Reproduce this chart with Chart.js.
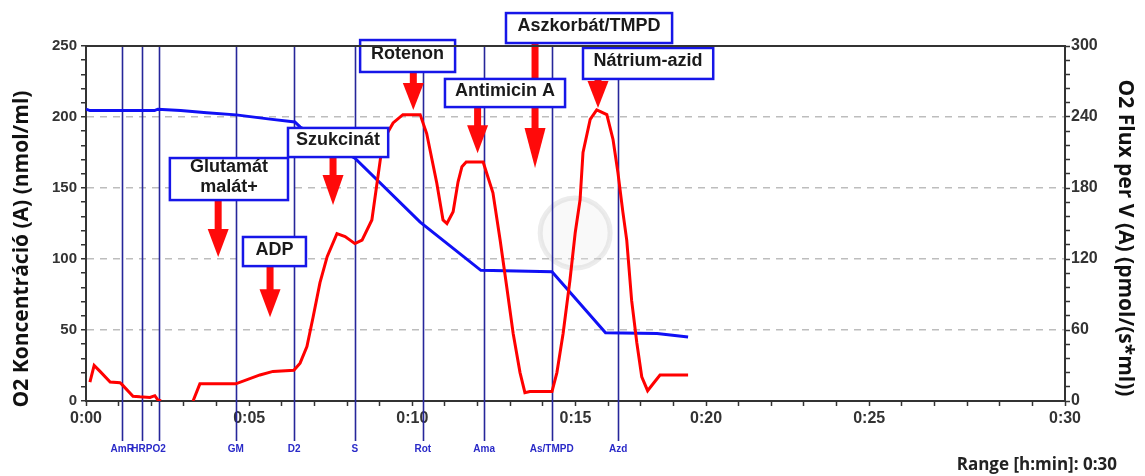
<!DOCTYPE html>
<html>
<head>
<meta charset="utf-8">
<script src="https://cdn.jsdelivr.net/npm/chart.js@4.4.0/dist/chart.umd.min.js"></script>
<style>
  html, body { margin: 0; padding: 0; background: #fff; }
  #wrap { width: 1145px; height: 476px; }
</style>
</head>
<body>
<div id="wrap"><canvas id="o2chart" width="1145" height="476"></canvas></div>
<script>
Chart.defaults.font.family = "'Liberation Sans', Arial, sans-serif";
Chart.defaults.color = '#333';

// time axis, one tick per minute, labelled ones below
const tickAt = [0, 5, 10, 15, 19, 24, 30];
const tickText = ['0:00', '0:05', '0:10', '0:15', '0:20', '0:25', '0:30'];

// O2 flux per V (pmol/(s*ml)) - right axis
const fluxTime = [0.12, 0.25, 0.43, 0.74, 1.04, 1.1, 1.44, 1.65, 1.96, 2.11, 2.2, 2.3, 2.8,
  3.28, 3.49, 4.59, 5.33, 5.73, 6.37, 6.56, 6.77, 6.96, 7.17, 7.39, 7.69, 7.94, 8.24, 8.46,
  8.76, 9.1, 9.41, 9.71, 10.24, 10.44, 10.75, 10.94, 11.06, 11.25, 11.4, 11.52, 11.65, 12.17,
  12.47, 12.69, 12.89, 13.09, 13.3, 13.45, 13.6, 14.28, 14.43, 14.62, 14.83, 14.99, 15.14,
  15.23, 15.45, 15.65, 15.96, 16.15, 16.3, 16.45, 16.57, 16.72, 16.88, 17.03, 17.21, 17.39,
  17.59, 18.45];
const fluxValue = [16, 30, 25, 16, 15.5, 14, 4, 3.5, 3, 4.5, 1, 0, null,
  0, 14.5, 14.5, 22, 25, 26, 32, 46, 71, 100, 122, 141.5, 139, 133, 136,
  153, 220, 235, 242, 242, 226, 184, 153, 150, 160, 185, 198, 202, 202,
  176, 136, 97, 57, 24, 7, 8, 8, 24, 57, 102, 142, 170,
  210, 238, 246, 242, 221, 193, 160, 136, 85, 49, 20.5, 8.7, 15,
  22, 22];

// O2 concentration (nmol/ml) - left axis
const concTime = [0, 0.12, 2.1, 2.2, 2.9, 3.7, 4.6, 5.64, 6.4, 6.56, 8.24, 10.24, 12.1, 14.28, 15.92, 17.5, 18.45];
const concValue = [205.5, 204.5, 204.5, 205.5, 204.5, 203, 201.5, 198.5, 196.5, 193, 171, 126, 92, 91, 48, 47.5, 45];

// titration events
const eventTime = [1.11, 1.71, 2.24, 4.59, 6.38, 8.24, 10.32, 12.2, 14.27, 16.31];
const eventCode = ['AmR', 'HRP', 'O2', 'GM', 'D2', 'S', 'Rot', 'Ama', 'As/TMPD', 'Azd'];

// callout boxes + arrows, placed in axis units (minutes / nmol/ml)
const callouts = [
  { text: ['Glutamát', 'malát+'], x1: 2.57, x2: 6.19, y1: 171.1, y2: 141.5, ax: 4.05, ay: 101.4, head: 28 },
  { text: ['ADP'], x1: 4.81, x2: 6.74, y1: 115.5, y2: 95, ax: 5.64, ay: 59, head: 28 },
  { text: ['Szukcinát'], x1: 6.19, x2: 9.26, y1: 192.3, y2: 171.8, ax: 7.57, ay: 138, head: 30 },
  { text: ['Rotenon'], x1: 8.4, x2: 11.31, y1: 254.2, y2: 231.7, ax: 10.03, ay: 205, head: 27 },
  { text: ['Antimicin A'], x1: 11.0, x2: 14.68, y1: 226.8, y2: 207, ax: 12.0, ay: 174.4, head: 28 },
  { text: ['Aszkorbát/TMPD'], x1: 12.87, x2: 17.96, y1: 273.2, y2: 252.1, ax: 13.76, ay: 164, head: 40 },
  { text: ['Nátrium-azid'], x1: 15.23, x2: 19.22, y1: 248.6, y2: 226.8, ax: 15.69, ay: 206.3, head: 27 }
];

const toPoints = (xs, ys) => xs.map((t, i) => ({ x: t, y: ys[i] }));

// event lines, callouts, frame and titles
const o2Decor = {
  id: 'o2Decor',
  beforeDatasetsDraw(chart) {
    const { ctx, chartArea: a, scales } = chart;
    const x = scales.x, y = scales.yConc;

    // faint logo in the background
    ctx.save();
    const lx = x.getPixelForValue(14.99), ly = y.getPixelForValue(118.3);
    ctx.beginPath();
    ctx.arc(lx, ly, 35, 0, Math.PI * 2);
    ctx.fillStyle = 'rgba(235,235,235,0.3)';
    ctx.fill();
    ctx.lineWidth = 5;
    ctx.strokeStyle = 'rgba(185,185,185,0.28)';
    ctx.stroke();
    ctx.restore();

    ctx.save();
    ctx.strokeStyle = '#26269a';
    ctx.lineWidth = 1.6;
    eventTime.forEach(t => {
      const px = Math.round(x.getPixelForValue(t)) + 0.5;
      ctx.beginPath();
      ctx.moveTo(px, a.top);
      ctx.lineTo(px, a.bottom + 40);
      ctx.stroke();
    });
    ctx.restore();
  },
  afterDatasetsDraw(chart) {
    const { ctx, scales } = chart;
    const x = scales.x, y = scales.yConc;
    ctx.save();
    // arrows first, boxes sit on top of them
    ctx.fillStyle = '#ff0a0a';
    callouts.forEach(c => {
      const ax = x.getPixelForValue(c.ax);
      const top = y.getPixelForValue(c.y2);
      const tip = y.getPixelForValue(c.ay);
      ctx.fillRect(ax - 3.5, top, 7, tip - c.head - top + 1);
      ctx.beginPath();
      ctx.moveTo(ax - 10.5, tip - c.head);
      ctx.lineTo(ax + 10.5, tip - c.head);
      ctx.lineTo(ax, tip);
      ctx.closePath();
      ctx.fill();
    });

    callouts.forEach(c => {
      const bx1 = x.getPixelForValue(c.x1), bx2 = x.getPixelForValue(c.x2);
      const by1 = y.getPixelForValue(c.y1), by2 = y.getPixelForValue(c.y2);
      ctx.fillStyle = '#fff';
      ctx.fillRect(bx1, by1, bx2 - bx1, by2 - by1);
      ctx.lineWidth = 2.5;
      ctx.strokeStyle = '#1616e8';
      ctx.strokeRect(bx1, by1, bx2 - bx1, by2 - by1);

      ctx.fillStyle = '#1a1a1a';
      ctx.font = "bold 18px 'Liberation Sans', Arial, sans-serif";
      ctx.textAlign = 'center';
      ctx.textBaseline = 'middle';
      const cx = (bx1 + bx2) / 2, cy = (by1 + by2) / 2 - 2;
      const lh = 20;
      c.text.forEach((s, i) => {
        ctx.fillText(s, cx, cy + (i - (c.text.length - 1) / 2) * lh);
      });
    });
    ctx.restore();
  },
  afterDraw(chart) {
    const { ctx, chartArea: a, scales } = chart;
    const x = scales.x;
    ctx.save();
    // top frame line
    ctx.strokeStyle = '#333';
    ctx.lineWidth = 2;
    ctx.beginPath();
    ctx.moveTo(a.left, a.top);
    ctx.lineTo(a.right, a.top);
    ctx.stroke();

    // event codes under the axis
    ctx.fillStyle = '#2a2ac8';
    ctx.font = "bold 10px 'Liberation Sans', Arial, sans-serif";
    ctx.textAlign = 'center';
    ctx.textBaseline = 'middle';
    eventTime.forEach((t, i) => {
      ctx.fillText(eventCode[i], x.getPixelForValue(t), a.bottom + 48);
    });

    // axis titles
    ctx.fillStyle = '#111';
    ctx.font = "bold 21px 'Open Sans', 'Liberation Sans', sans-serif";
    ctx.save();
    ctx.translate(22, 249);
    ctx.rotate(-Math.PI / 2);
    ctx.fillText('O2 Koncentráció (A) (nmol/ml)', 0, 0);
    ctx.restore();
    ctx.save();
    ctx.translate(1125, 238);
    ctx.rotate(Math.PI / 2);
    ctx.fillText('O2 Flux per V (A) (pmol/(s*ml))', 0, 0);
    ctx.restore();

    ctx.font = "bold 17px 'Open Sans', 'Liberation Sans', sans-serif";
    ctx.textAlign = 'right';
    ctx.fillStyle = '#222';
    ctx.fillText('Range [h:min]: 0:30', 1117, 465);
    ctx.restore();
  }
};

const ctx = document.getElementById('o2chart').getContext('2d');

new Chart(ctx, {
  type: 'line',
  data: {
    datasets: [{
      label: 'O2 Flux per V',
      data: toPoints(fluxTime, fluxValue),
      yAxisID: 'yFlux',
      borderColor: '#ff0000',
      borderWidth: 3,
      pointRadius: 0,
      tension: 0,
      spanGaps: false
    }, {
      label: 'O2 Koncentráció',
      data: toPoints(concTime, concValue),
      yAxisID: 'yConc',
      borderColor: '#1010f5',
      borderWidth: 3,
      pointRadius: 0,
      tension: 0
    }]
  },
  options: {
    responsive: false,
    animation: false,
    devicePixelRatio: 1,
    layout: { padding: { top: 46 } },
    plugins: {
      legend: { display: false },
      tooltip: { enabled: false }
    },
    scales: {
      x: {
        type: 'linear',
        min: 0,
        max: 30,
        afterFit: s => { s.height = 75; },
        grid: { drawOnChartArea: false, tickLength: 5, tickColor: '#333', tickWidth: 1.5 },
        border: { color: '#333', width: 2 },
        ticks: {
          stepSize: 1,
          autoSkip: false,
          maxRotation: 0,
          padding: 3,
          color: '#333',
          font: { size: 16, weight: 'bold' },
          callback: v => {
            const i = tickAt.indexOf(Math.round(v));
            return i >= 0 && Math.abs(v - Math.round(v)) < 1e-6 ? tickText[i] : '';
          }
        }
      },
      yConc: {
        position: 'left',
        min: 0,
        max: 250,
        afterFit: s => { s.width = 86; },
        grid: {
          color: c => (c.tick && c.tick.value % 50 === 0 && c.tick.value > 0 && c.tick.value < 250) ? '#bdbdbd' : 'rgba(0,0,0,0)',
          lineWidth: 1.5,
          tickLength: 5,
          tickColor: '#333',
          tickWidth: 1.5
        },
        border: { color: '#333', width: 2, dash: [7, 6] },
        ticks: {
          stepSize: 10,
          autoSkip: false,
          padding: 4,
          color: '#333',
          font: { size: 15, weight: 'bold' },
          callback: v => (v % 50 === 0 ? v : '')
        }
      },
      yFlux: {
        position: 'right',
        min: 0,
        max: 300,
        afterFit: s => { s.width = 80; },
        grid: { drawOnChartArea: false, tickLength: 5, tickColor: '#333', tickWidth: 1.5 },
        border: { color: '#333', width: 2 },
        ticks: {
          stepSize: 12,
          autoSkip: false,
          padding: 1,
          color: '#333',
          font: { size: 16, weight: 'bold' },
          callback: v => (v % 60 === 0 ? v : '')
        }
      }
    }
  },
  plugins: [o2Decor]
});
</script>
</body>
</html>
